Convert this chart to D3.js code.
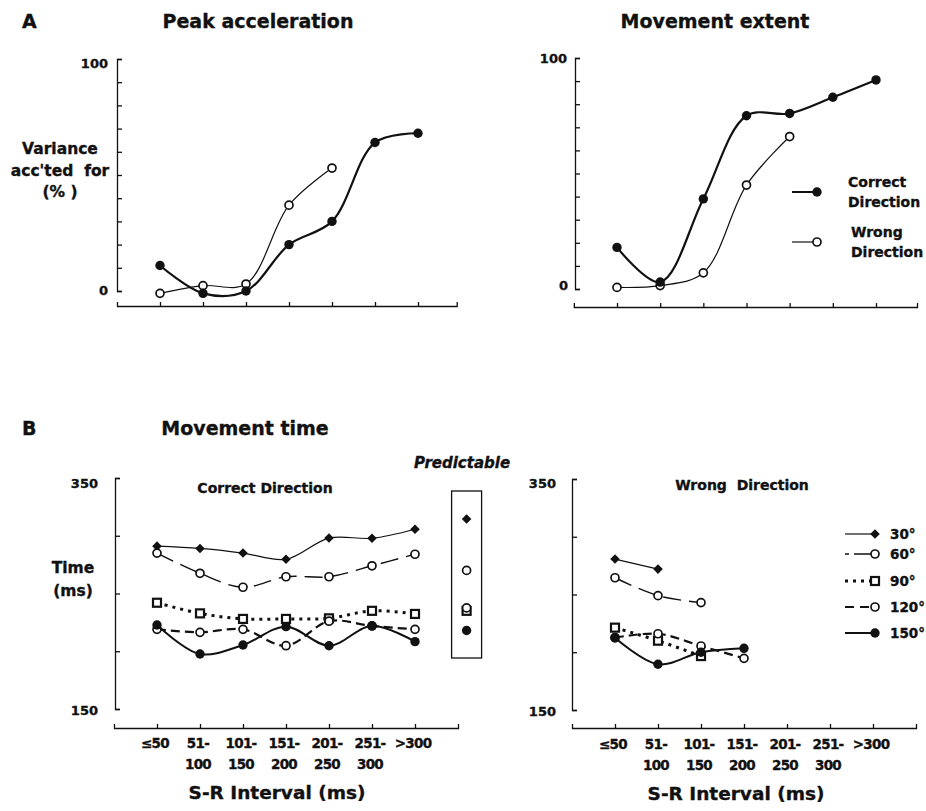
<!DOCTYPE html>
<html>
<head>
<meta charset="utf-8">
<script src="https://cdn.jsdelivr.net/npm/d3@7"></script>
<style>
  body { margin: 0; background: #fff; }
  svg text { font-family: "DejaVu Sans", sans-serif; font-weight: bold; fill: #111; stroke: #111; stroke-width: 0.35px; }
</style>
</head>
<body>
<svg id="chart" width="926" height="811"></svg>
<script>
// S-R interval categories (two-line tick labels)
const intervalLabels = [["≤50"], ["51-", "100"], ["101-", "150"], ["151-", "200"],
  ["201-", "250"], ["251-", "300"], [">300"]];

// A: variance accounted for (%)
const peakCorrect = [11, -1, 0, 20, 30, 64, 68];
const peakWrong = [-1, 2.3, 3, 37, 53];
const extentCorrect = [18, 3, 39, 75, 76, 83, 90.5];
const extentWrong = [0.7, 1.5, 7, 45, 66];

// B: movement time (ms), one array per target angle
const angles = ["30°", "60°", "90°", "120°", "150°"];
const mtCorrect = [
  [291, 289, 285, 279.6, 298, 297.8, 305.6],
  [285, 267.5, 255.4, 264.5, 264.5, 274, 284],
  [242, 232.8, 228, 228, 228.5, 235, 232.3],
  [219, 216.4, 219, 204.8, 226, 221.9, 219],
  [222.7, 197.6, 205.4, 221.3, 204.8, 222, 208.3]
];
const mtPredictable = [314.5, 270, 235, 237.5, 218];
const mtWrong = [
  [280.7, 272],
  [264.5, 249, 243],
  [221.3, 210, 196.7],
  [212.6, 216, 205.4, 194.7],
  [212.6, 189.6, 200, 203.4]
];

(function () {
  "use strict";
  const svg = d3.select("#chart");
  svg.append("rect").attr("width", 926).attr("height", 811).attr("fill", "#fff");
  const INK = "#111";

  // marker + line style per angle
  const angleStyle = [
    { marker: "diamond", width: 1.2, dash: null },
    { marker: "open", width: 1.4, dash: "18,8" },
    { marker: "square", width: 3, dash: "3,5" },
    { marker: "open", width: 2.2, dash: "9,5" },
    { marker: "filled", width: 2, dash: null }
  ];

  function text(x, y, str, size, anchor, extra) {
    const t = svg.append("text").attr("x", x).attr("y", y)
      .attr("font-size", size + "px").attr("text-anchor", anchor || "start").text(str);
    if (extra) extra(t);
    return t;
  }

  function marker(g, type, x, y) {
    if (type === "filled") {
      g.append("circle").attr("cx", x).attr("cy", y).attr("r", 4.7).attr("fill", INK);
    } else if (type === "open") {
      g.append("circle").attr("cx", x).attr("cy", y).attr("r", 4)
        .attr("fill", "#fff").attr("stroke", INK).attr("stroke-width", 1.7);
    } else if (type === "square") {
      g.append("rect").attr("x", x - 4).attr("y", y - 4).attr("width", 8).attr("height", 8)
        .attr("fill", "#fff").attr("stroke", INK).attr("stroke-width", 2.2);
    } else if (type === "diamond") {
      g.append("path").attr("d", d3.symbol(d3.symbolSquare, 46)())
        .attr("transform", `translate(${x},${y}) rotate(45)`).attr("fill", INK);
    }
  }

  // build panel frame: x axis (ticks up) + y axis (ticks right)
  function panel(opt) {
    const x = d3.scaleLinear().domain([0, 6]).range([opt.x0, opt.x6]);
    const y = d3.scaleLinear().domain(opt.yDomain).range(opt.yRange);
    const g = svg.append("g");

    const xAxisScale = d3.scaleLinear().domain([-1, opt.xEnd]).range([x(-1), x(opt.xEnd)]);
    g.append("g").attr("transform", `translate(0,${opt.axisY})`)
      .call(d3.axisTop(xAxisScale).tickValues(d3.range(7)).tickSize(4).tickSizeOuter(4).tickFormat(""))
      .call(a => a.selectAll("path,line").attr("stroke", INK).attr("stroke-width", 1.3));

    g.append("g").attr("transform", `translate(${opt.yAxisX},0)`)
      .call(d3.axisRight(y).tickValues(opt.yTicks).tickSize(5).tickSizeOuter(5).tickFormat(""))
      .call(a => a.selectAll("path,line").attr("stroke", INK).attr("stroke-width", 1.3));

    return { x, y, g };
  }

  function drawSeries(p, values, style, curve) {
    const line = d3.line().x((d, i) => p.x(i)).y(d => p.y(d)).curve(curve || d3.curveCatmullRom.alpha(0.5));
    const path = p.g.append("path").attr("d", line(values)).attr("fill", "none")
      .attr("stroke", INK).attr("stroke-width", style.width);
    if (style.dash) path.attr("stroke-dasharray", style.dash);
    values.forEach((v, i) => marker(p.g, style.marker, p.x(i), p.y(v)));
  }

  function xLabels(p, base1, base2) {
    intervalLabels.forEach((lines, i) => {
      lines.forEach((s, k) => {
        text(p.x(i) - 2, k === 0 ? base1 : base2, s, 13.5, "middle",
          t => t.attr("font-family", "'Liberation Sans', Arial, sans-serif").attr("letter-spacing", "-0.7px"));
      });
    });
  }

  // ---------- A: Peak acceleration ----------
  text(22, 28, "A", 19);
  text(258, 28, "Peak acceleration", 19, "middle");
  const pa = panel({ x0: 160, x6: 418, xEnd: 6.9, axisY: 306, yAxisX: 117,
    yDomain: [0, 100], yRange: [291, 59], yTicks: d3.range(0, 101, 10) });
  text(108, 68, "100", 13, "end");
  text(108, 295, "0", 13, "end");
  text(60, 154, "Variance", 15.5, "middle");
  text(60, 176, "acc'ted  for", 15.5, "middle", t => t.style("white-space", "pre"));
  text(60, 197, "(% )", 15.5, "middle", t => t.style("white-space", "pre"));
  drawSeries(pa, peakWrong, { marker: "open", width: 1.2 });
  drawSeries(pa, peakCorrect, { marker: "filled", width: 2.2 });

  // ---------- A: Movement extent ----------
  text(715, 28, "Movement extent", 19, "middle");
  const pe = panel({ x0: 617, x6: 876, xEnd: 6.95, axisY: 307, yAxisX: 575,
    yDomain: [0, 100], yRange: [289, 58], yTicks: d3.range(0, 101, 10) });
  text(567, 63, "100", 13, "end");
  text(568, 290, "0", 13, "end");
  drawSeries(pe, extentWrong, { marker: "open", width: 1.2 });
  drawSeries(pe, extentCorrect, { marker: "filled", width: 2.2 });

  // legend (top right)
  const lg = svg.append("g");
  lg.append("line").attr("x1", 792).attr("x2", 817).attr("y1", 192).attr("y2", 192)
    .attr("stroke", INK).attr("stroke-width", 2);
  marker(lg, "filled", 817, 192);
  lg.append("line").attr("x1", 792).attr("x2", 815).attr("y1", 242).attr("y2", 242)
    .attr("stroke", INK).attr("stroke-width", 1.2);
  marker(lg, "open", 817, 242);
  text(848, 187, "Correct", 14);
  text(848, 207, "Direction", 14);
  text(851, 237, "Wrong", 14);
  text(851, 257, "Direction", 14);

  // ---------- B: Movement time, correct direction ----------
  text(22, 435, "B", 19);
  text(245, 435, "Movement time", 19, "middle");
  const pc = panel({ x0: 157, x6: 415, xEnd: 7, axisY: 728, yAxisX: 115,
    yDomain: [150, 350], yRange: [709, 478], yTicks: [150, 200, 250, 300, 350] });
  text(98, 488, "350", 13, "end");
  text(98, 715, "150", 13, "end");
  text(73, 573, "Time", 15.5, "middle");
  text(73, 596, "(ms)", 15.5, "middle");
  text(265, 493, "Correct Direction", 14, "middle");
  text(462, 468, "Predictable", 15, "middle", t => t.attr("font-style", "italic"));
  mtCorrect.forEach((vals, a) => drawSeries(pc, vals, angleStyle[a]));

  // predictable column
  const px = pc.x(7.2);
  pc.g.append("rect").attr("x", px - 15).attr("y", 491).attr("width", 30).attr("height", 167)
    .attr("fill", "none").attr("stroke", INK).attr("stroke-width", 1.3);
  [2, 3, 1, 0, 4].forEach(a => marker(pc.g, angleStyle[a].marker, px, pc.y(mtPredictable[a])));

  xLabels(pc, 748, 769);
  text(277, 799, "S-R Interval (ms)", 18.5, "middle");

  // ---------- B: Movement time, wrong direction ----------
  const pw = panel({ x0: 615, x6: 873, xEnd: 7, axisY: 728, yAxisX: 572,
    yDomain: [150, 350], yRange: [710, 479], yTicks: [150, 200, 250, 300, 350] });
  text(556, 488, "350", 13, "end");
  text(556, 716, "150", 13, "end");
  text(742, 490, "Wrong  Direction", 14, "middle", t => t.style("white-space", "pre"));
  mtWrong.forEach((vals, a) => drawSeries(pw, vals, angleStyle[a]));
  xLabels(pw, 749, 770);
  text(736, 800, "S-R Interval (ms)", 18.5, "middle");

  // legend (angles)
  const legY = [534, 554, 581, 607, 633];
  const lb = svg.append("g");
  angles.forEach((lab, a) => {
    const st = angleStyle[a];
    const l = lb.append("line").attr("x1", 845).attr("x2", 875).attr("y1", legY[a]).attr("y2", legY[a])
      .attr("stroke", INK).attr("stroke-width", st.width);
    if (st.dash) l.attr("stroke-dasharray", a === 1 ? "4,5,30" : a === 3 ? "9,6" : st.dash);
    marker(lb, st.marker, 875, legY[a]);
    text(890, legY[a] + 5, lab, 13.5);
  });
})();
</script>
</body>
</html>
